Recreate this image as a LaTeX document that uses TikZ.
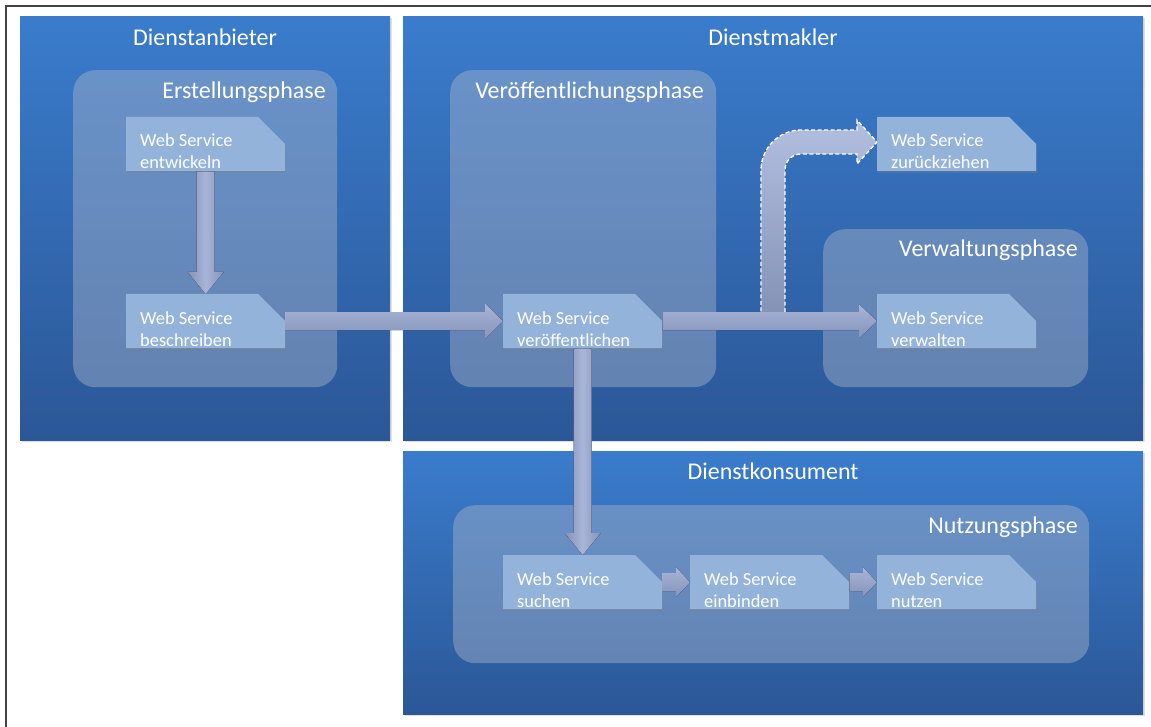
\documentclass[tikz,border=0pt]{standalone}
\usepackage{fontspec}
\setmainfont{Carlito}
\usetikzlibrary{arrows.meta,shadows,calc}
\definecolor{boxtop}{HTML}{3A7CCC}
\definecolor{boxbot}{HTML}{2B5797}
\definecolor{phasecol}{RGB}{175,185,205}
\definecolor{docfill}{HTML}{94B3DA}
\definecolor{arlight}{HTML}{A8B5D9}
\definecolor{ardark}{HTML}{8693B8}
\definecolor{retlight}{HTML}{B2BFE0}
\definecolor{retdark}{HTML}{8391B5}
\definecolor{framecol}{HTML}{444444}
\newcommand{\wsnode}[4]{%
  \fill[docfill, drop shadow={opacity=0.35, shadow xshift=1pt, shadow yshift=-2pt}]
    (#2,#3) -- ++(132,0) -- ++(27,27) -- ++(0,27) -- ++(-159,0) -- cycle;
  \node[docbox] (#1) at (#2,#3) {};
  \node[doctext] at ([xshift=14pt,yshift=-30pt]#1.north west) {Web Service};
  \node[doctext] at ([xshift=14pt,yshift=-52pt]#1.north west) {#4};
}
% vertical block arrow: from, to, shaft half width, head half width, head length
\newcommand{\varrow}[5]{%
  \fill[vshade] ($(#1)+(-#3,0)$) -- ($(#2)+(-#3,-#5)$) -- ($(#2)+(-#4,-#5)$) -- (#2)
    -- ($(#2)+(#4,-#5)$) -- ($(#2)+(#3,-#5)$) -- ($(#1)+(#3,0)$) -- cycle;
}
% horizontal block arrow: from, to, shaft half width, head half width, head length
\newcommand{\harrow}[5]{%
  \fill[hshade] ($(#1)+(0,-#3)$) -- ($(#2)+(-#5,-#3)$) -- ($(#2)+(-#5,-#4)$) -- (#2)
    -- ($(#2)+(-#5,#4)$) -- ($(#2)+(-#5,#3)$) -- ($(#1)+(0,#3)$) -- cycle;
}
\begin{document}
\begin{tikzpicture}[x=1pt,y=-1pt,
  bigbox/.style={rectangle, anchor=north west, inner sep=0pt, draw=none,
    top color=boxtop, bottom color=boxbot,
    drop shadow={opacity=0.25, shadow xshift=2pt, shadow yshift=-2pt}},
  phasebox/.style={rectangle, rounded corners=22pt, anchor=north west, inner sep=0pt,
    draw=none, fill=phasecol, fill opacity=0.42},
  docbox/.style={rectangle, anchor=north west, inner sep=0pt, draw=none,
    minimum width=159pt, minimum height=54pt},
  doctext/.style={anchor=base west, inner sep=0pt, text=white,
    font=\fontsize{18.4}{22}\selectfont},
  title/.style={anchor=base, inner sep=0pt, text=white, font=\fontsize{24}{28}\selectfont},
  phasetitle/.style={anchor=base east, inner sep=0pt, text=white, font=\fontsize{24}{28}\selectfont},
  vshade/.style={left color=ardark, right color=ardark, middle color=arlight},
  hshade/.style={top color=arlight, bottom color=ardark},
  retarrow/.style={top color=retlight, bottom color=retdark, draw=white, line width=1.3pt,
    dash pattern=on 4pt off 2.5pt}
]
\useasboundingbox (0,0) rectangle (1151,727);
\fill[white] (0,0) rectangle (1151,727);
\draw[framecol, line width=1.2pt] (6,727) -- (6,6) -- (1151,6);

% actor boxes
\node[bigbox, minimum width=370pt, minimum height=424pt] (anb) at (20,16) {};
\node[bigbox, minimum width=740pt, minimum height=424pt] (mak) at (403,16) {};
\node[bigbox, minimum width=740pt, minimum height=263pt] (kon) at (403,451) {};
\node[title] at (205,46) {Dienstanbieter};
\node[title] at (773,46) {Dienstmakler};
\node[title] at (773,479) {Dienstkonsument};

% phase boxes
\node[phasebox, minimum width=264pt, minimum height=317pt] (erst) at (73,70) {};
\node[phasebox, minimum width=266pt, minimum height=317pt] (veroeffph) at (450,70) {};
\node[phasebox, minimum width=265pt, minimum height=158pt] (verwph) at (823,229) {};
\node[phasebox, minimum width=636pt, minimum height=158pt] (nutzph) at (453,505) {};
\node[phasetitle] at (326,99) {Erstellungsphase};
\node[phasetitle] at (704,99) {Veröffentlichungsphase};
\node[phasetitle] at (1078,257) {Verwaltungsphase};
\node[phasetitle] at (1078,533) {Nutzungsphase};

% return arrow (dashed)
\coordinate (ret) at (773,318);
\filldraw[retarrow] (761,318) -- (761,170) .. controls (761,148) and (779,130) .. (801,130)
  -- (857,130) -- (857,120) -- (877,142) -- (857,164) -- (857,154) -- (801,154)
  .. controls (792,154) and (785,161) .. (785,170) -- (785,318) -- cycle;

% web service steps
\wsnode{ent}{126}{117}{entwickeln}
\wsnode{besch}{126}{294}{beschreiben}
\wsnode{veroeff}{503}{294}{veröffentlichen}
\wsnode{zur}{877}{117}{zurückziehen}
\wsnode{verw}{877}{294}{verwalten}
\wsnode{such}{503}{555}{suchen}
\wsnode{einb}{690}{555}{einbinden}
\wsnode{nutz}{877}{555}{nutzen}

% connectors
\varrow{ent.south}{besch.north}{9}{18}{22}
\harrow{besch.east}{veroeff.west}{9}{18}{18}
\harrow{veroeff.east}{verw.west}{9}{17}{18}
\varrow{veroeff.south}{such.north}{9}{18}{22}
\harrow{such.east}{einb.west}{9}{15}{14}
\harrow{einb.east}{nutz.west}{9}{15}{14}
\end{tikzpicture}
\end{document}
